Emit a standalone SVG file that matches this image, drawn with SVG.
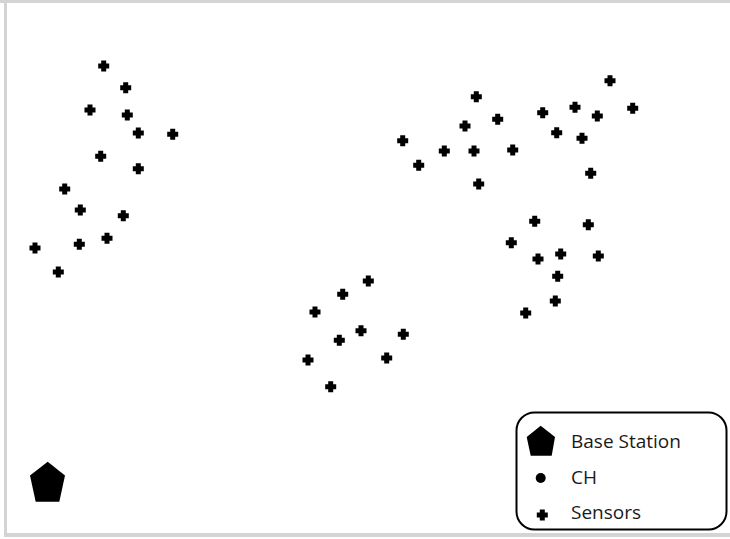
<svg xmlns="http://www.w3.org/2000/svg" xmlns:xlink="http://www.w3.org/1999/xlink" width="730" height="539" viewBox="0 0 730 539">
<style>
.frame{fill:#d4d4d4}
.lbl{font-family:"Open Sans","Liberation Sans",sans-serif;font-size:19px;fill:#1a1a1a}
.box{fill:#fff;stroke:#000;stroke-width:2}
</style>
<defs>
<path id="plus" d="M-2.5,-5.5h5v3h3v5h-3v3h-5v-3h-3v-5h3z" fill="#000"/>
</defs>
<rect width="730" height="539" fill="#fff"/>
<g id="frame">
<rect class="frame" x="0" y="0" width="730" height="3"/>
<rect class="frame" x="4" y="0" width="3" height="537"/>
<rect class="frame" x="4" y="533" width="726" height="4"/>
</g>
<g id="base-station">
<polygon points="47.7,461.7 65,475.5 59.3,501.7 35.7,501.7 30,475.5" fill="#000"/>
</g>
<g id="sensors-cluster-1">
<use xlink:href="#plus" x="103.7" y="66"/>
<use xlink:href="#plus" x="125.7" y="87.7"/>
<use xlink:href="#plus" x="90" y="110"/>
<use xlink:href="#plus" x="127.3" y="115"/>
<use xlink:href="#plus" x="138.3" y="133"/>
<use xlink:href="#plus" x="172.7" y="134.3"/>
<use xlink:href="#plus" x="100.7" y="156.3"/>
<use xlink:href="#plus" x="138.3" y="168.7"/>
<use xlink:href="#plus" x="64.7" y="189"/>
<use xlink:href="#plus" x="80.3" y="210"/>
<use xlink:href="#plus" x="123.3" y="215.7"/>
<use xlink:href="#plus" x="107" y="238.3"/>
<use xlink:href="#plus" x="79.3" y="244.3"/>
<use xlink:href="#plus" x="35" y="248"/>
<use xlink:href="#plus" x="58.3" y="272"/>
</g>
<g id="sensors-cluster-2">
<use xlink:href="#plus" x="476.3" y="96.7"/>
<use xlink:href="#plus" x="497.7" y="119.3"/>
<use xlink:href="#plus" x="465" y="126"/>
<use xlink:href="#plus" x="402.7" y="140.7"/>
<use xlink:href="#plus" x="444.3" y="151"/>
<use xlink:href="#plus" x="474" y="151"/>
<use xlink:href="#plus" x="512.7" y="150"/>
<use xlink:href="#plus" x="418.7" y="165.3"/>
<use xlink:href="#plus" x="478.7" y="184"/>
</g>
<g id="sensors-cluster-3">
<use xlink:href="#plus" x="610" y="80.7"/>
<use xlink:href="#plus" x="632.7" y="108.3"/>
<use xlink:href="#plus" x="575" y="107.3"/>
<use xlink:href="#plus" x="542.7" y="112.7"/>
<use xlink:href="#plus" x="597.3" y="116"/>
<use xlink:href="#plus" x="556.7" y="132.7"/>
<use xlink:href="#plus" x="582" y="138.3"/>
<use xlink:href="#plus" x="590.7" y="173.3"/>
</g>
<g id="sensors-cluster-4">
<use xlink:href="#plus" x="534.7" y="221.3"/>
<use xlink:href="#plus" x="588.3" y="224.7"/>
<use xlink:href="#plus" x="511.3" y="242.7"/>
<use xlink:href="#plus" x="538" y="259"/>
<use xlink:href="#plus" x="560.7" y="254"/>
<use xlink:href="#plus" x="598.3" y="256"/>
<use xlink:href="#plus" x="557.7" y="276.3"/>
<use xlink:href="#plus" x="555.3" y="301"/>
<use xlink:href="#plus" x="525.7" y="313"/>
</g>
<g id="sensors-cluster-5">
<use xlink:href="#plus" x="368.3" y="281"/>
<use xlink:href="#plus" x="342.7" y="294.3"/>
<use xlink:href="#plus" x="315" y="312"/>
<use xlink:href="#plus" x="361" y="330.7"/>
<use xlink:href="#plus" x="339.3" y="340.3"/>
<use xlink:href="#plus" x="403.3" y="334.3"/>
<use xlink:href="#plus" x="308" y="360"/>
<use xlink:href="#plus" x="386.7" y="358"/>
<use xlink:href="#plus" x="330.7" y="386.7"/>
</g>
<g id="legend">
<rect class="box" x="516.5" y="412.5" width="210" height="117" rx="18" ry="18"/>
<polygon points="540.7,425.7 555,437 551.7,455.7 530.7,455.7 526.7,437" fill="#000"/>
<text class="lbl" x="571" y="448">Base Station</text>
<circle cx="540.7" cy="478" r="5" fill="#000"/>
<text class="lbl" x="571" y="483.5">CH</text>
<use xlink:href="#plus" x="542.3" y="515"/>
<text class="lbl" x="571" y="518.5">Sensors</text>
</g>
</svg>
